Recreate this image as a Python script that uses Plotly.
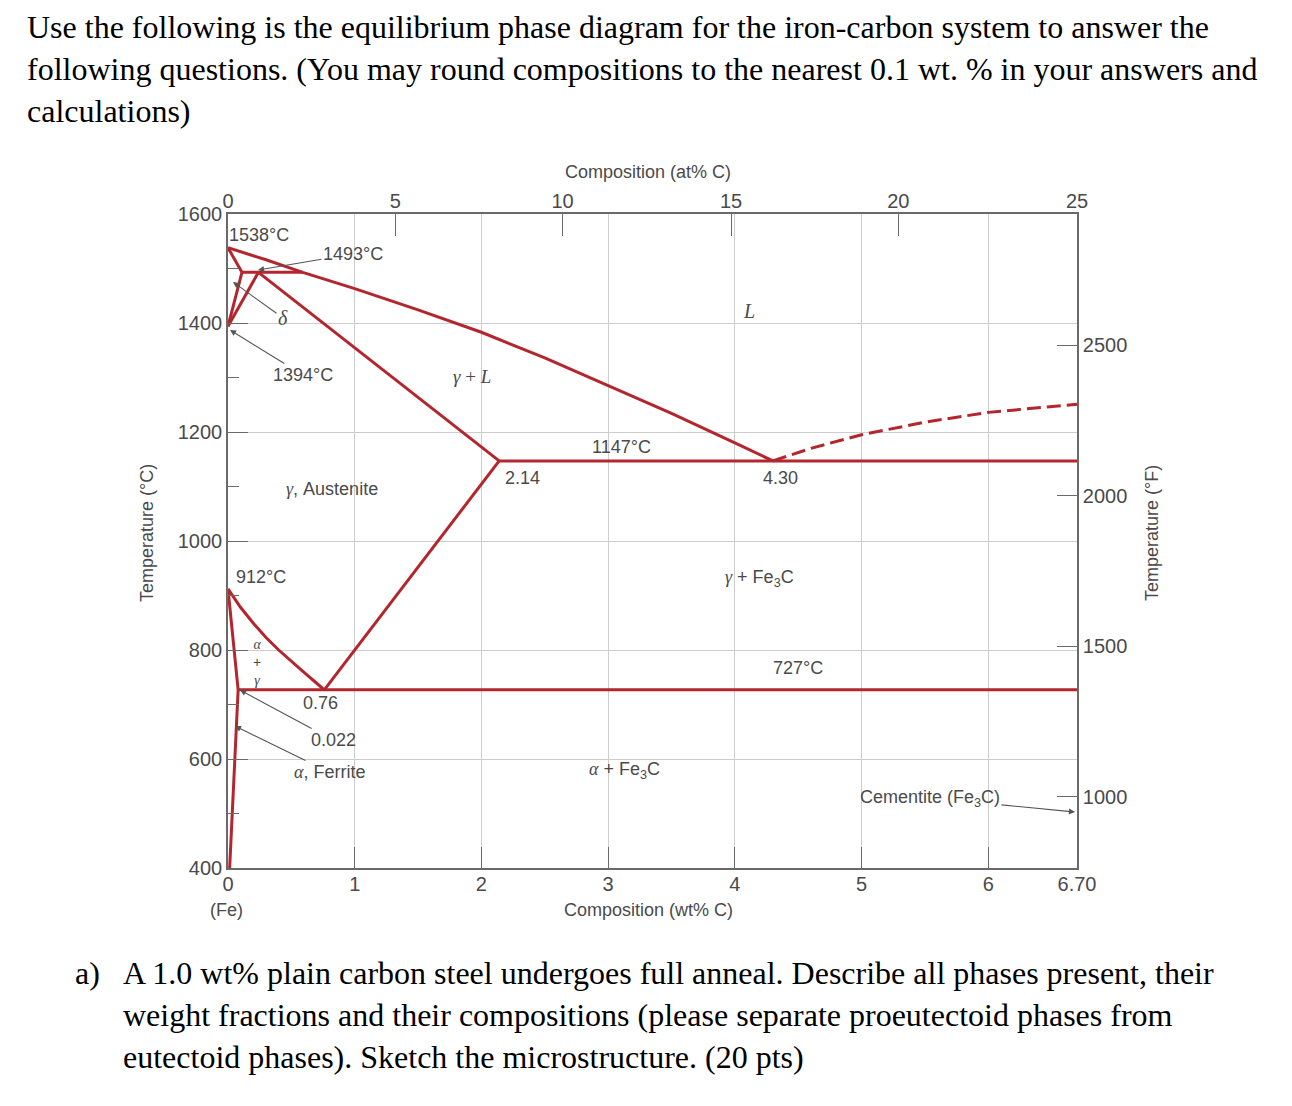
import plotly.graph_objects as go

# ---------------- data (wt% C, temperature °C) ----------------
liq_wt = [0.0, 0.30, 0.59, 1.0, 1.5, 2.0, 2.5, 3.0, 3.5, 4.0, 4.30]
liq_T = [1538, 1516, 1493, 1463, 1424, 1383, 1336, 1285, 1234, 1180, 1147]

delta_liq_wt = [0.0, 0.11]
delta_liq_T = [1538, 1493]
delta_bnd_wt = [0.11, 0.0]
delta_bnd_T = [1493, 1394]
gamma_bnd_wt = [0.24, 0.0]
gamma_bnd_T = [1493, 1394]
peritectic_wt = [0.11, 0.59]
peritectic_T = [1493, 1493]
solidus_wt = [0.24, 2.14]
solidus_T = [1493, 1147]
eutectic_wt = [2.14, 6.70]
eutectic_T = [1147, 1147]
acm_wt = [2.14, 0.76]
acm_T = [1147, 727]
a3_wt = [0.0, 0.1, 0.2, 0.3, 0.4, 0.5, 0.6, 0.7, 0.76]
a3_T = [912, 878, 849, 823, 800, 779, 759, 739, 727]
alpha_wt = [0.0, 0.08, 0.013]
alpha_T = [912, 727, 400]
eutectoid_wt = [0.08, 6.70]
eutectoid_T = [727, 727]
fe3c_liq_wt = [4.30, 4.6, 5.0, 5.5, 6.0, 6.70]
fe3c_liq_T = [1147, 1170, 1195, 1218, 1236, 1251]

wt_ticks = [0, 1, 2, 3, 4, 5, 6, 6.70]
wt_labels = ["0", "1", "2", "3", "4", "5", "6", "6.70"]
at_ticks_wt = [0, 1.32, 2.64, 3.97, 5.29, 6.70]
at_labels = ["0", "5", "10", "15", "20", "25"]
c_ticks = [400, 600, 800, 1000, 1200, 1400, 1600]
c_minor = [500, 700, 900, 1100, 1300, 1500]
f_ticks = [1000, 1500, 2000, 2500]
f_range = [764.2, 2934.8]

RED = "#b3262d"
TXT = "#4a4a4a"
AX = "#6a6a6a"
GRID = "#cdcdcd"
SANS = "Liberation Sans, Arial, sans-serif"
SERIF = "Liberation Serif, Times New Roman, serif"

OFF = 8  # body margin of the html page
W, H = 1292 - 2 * OFF, 1106 - 2 * OFF
L, R, T, B = 228, 1077, 214, 868  # plot area in reference pixels

fig = go.Figure()


def seg(x, y, dash=None):
    fig.add_trace(go.Scatter(x=x, y=y, mode="lines", hoverinfo="skip",
                             line=dict(color=RED, width=3, dash=dash)))


seg(liq_wt, liq_T)
seg(delta_liq_wt, delta_liq_T)
seg(delta_bnd_wt, delta_bnd_T)
seg(gamma_bnd_wt, gamma_bnd_T)
seg(peritectic_wt, peritectic_T)
seg(solidus_wt, solidus_T)
seg(eutectic_wt, eutectic_T)
seg(acm_wt, acm_T)
seg(a3_wt, a3_T)
seg(alpha_wt, alpha_T)
seg(eutectoid_wt, eutectoid_T)
seg(fe3c_liq_wt, fe3c_liq_T, dash="14px,6px")

# invisible trace to activate the secondary (top / right) axes
fig.add_trace(go.Scatter(x=[0, 6.70], y=f_range, xaxis="x2", yaxis="y2",
                         mode="markers", marker=dict(opacity=0), hoverinfo="skip"))

tickfont = dict(family=SANS, size=20, color=TXT)
fig.update_layout(
    width=W, height=H, autosize=False,
    margin=dict(l=L - OFF, r=W - (R - OFF), t=T - OFF, b=H - (B - OFF), pad=0),
    paper_bgcolor="white", plot_bgcolor="white", showlegend=False,
    xaxis=dict(range=[0, 6.70], tickvals=wt_ticks, ticktext=wt_labels,
               ticks="inside", ticklen=21, tickcolor=AX, tickwidth=1.2,
               showgrid=True, gridcolor=GRID, gridwidth=1, zeroline=False,
               showline=True, linecolor=AX, linewidth=1.6, tickfont=tickfont,
               ticklabelstandoff=-3),
    xaxis2=dict(range=[0, 6.70], overlaying="x", side="top", tickvals=at_ticks_wt,
                ticktext=at_labels, ticks="inside", ticklen=22, tickcolor=AX,
                tickwidth=1.2, showgrid=False, zeroline=False, showline=True,
                linecolor=AX, linewidth=1.6, tickfont=tickfont,
                ticklabelstandoff=-4),
    yaxis=dict(range=[400, 1600], tickvals=c_ticks, ticks="inside", ticklen=20,
               tickcolor=AX, tickwidth=1.2, showgrid=True, gridcolor=GRID,
               gridwidth=1, zeroline=False, showline=True, linecolor=AX,
               linewidth=1.6, tickfont=tickfont,
               minor=dict(tickvals=c_minor, ticks="inside", ticklen=11,
                          tickcolor=AX, tickwidth=1.2, showgrid=False)),
    yaxis2=dict(range=f_range, overlaying="y", side="right", tickvals=f_ticks,
                ticks="inside", ticklen=20, tickcolor=AX, tickwidth=1.2,
                showgrid=False, zeroline=False, showline=True, linecolor=AX,
                linewidth=1.6, tickfont=tickfont),
)


def px(x):
    return (x - L) / (R - L)


def py(y):
    return (B - y) / (B - T)


anns = []


def text(s, x, y, size=18, color=TXT, family=SANS, xanchor="center", angle=0, head=None):
    a = dict(text=s, xref="paper", yref="paper", xanchor=xanchor, yanchor="middle",
             textangle=angle, font=dict(size=size, color=color, family=family))
    if head is None:
        a.update(x=px(x), y=py(y), showarrow=False)
    else:
        # text centred at (x, y), arrow pointing to head
        a.update(x=px(head[0]), y=py(head[1]), ax=x - head[0], ay=y - head[1],
                 axref="pixel", ayref="pixel", showarrow=True, arrowhead=2,
                 arrowsize=1.1, arrowwidth=1.1, arrowcolor="#555", standoff=0)
    anns.append(a)


# question text
Q = "black"
QS = 32
text("Use the following is the equilibrium phase diagram for the iron-carbon system to answer the",
     25, 27, size=QS, color=Q, family=SERIF, xanchor="left")
text("following questions. (You may round compositions to the nearest 0.1 wt. % in your answers and",
     25, 69, size=QS, color=Q, family=SERIF, xanchor="left")
text("calculations)", 25, 111, size=QS, color=Q, family=SERIF, xanchor="left")
text("a)", 73, 973, size=QS, color=Q, family=SERIF, xanchor="left")
text("A 1.0 wt% plain carbon steel undergoes full anneal. Describe all phases present, their",
     121, 973, size=QS, color=Q, family=SERIF, xanchor="left")
text("weight fractions and their compositions (please separate proeutectoid phases from",
     121, 1015, size=QS, color=Q, family=SERIF, xanchor="left")
text("eutectoid phases). Sketch the microstructure. (20 pts)",
     121, 1057, size=QS, color=Q, family=SERIF, xanchor="left")

# axis titles
text("Composition (at% C)", 648, 172)
text("Composition (wt% C)", 648, 910)
text("(Fe)", 226, 910)
text("Temperature (°C)", 147, 533, angle=-90)
text("Temperature (°F)", 1152, 533, angle=-90)

# diagram labels
I = lambda s: '<span style="font-family:Liberation Serif"><i>%s</i></span>' % s
text("1538°C", 259, 235)
text("1493°C", 353, 254, head=(258, 270))
text(I("δ"), 283, 318, size=20, head=(233, 282))
text("1394°C", 303, 375, head=(230, 330))
text(I("γ") + " + " + I("L"), 472, 376, size=19, family=SERIF)
text(I("L"), 749, 311, size=20)
text("1147°C", 621, 447)
text("2.14", 522, 478)
text("4.30", 780, 478)
text(I("γ") + ", Austenite", 332, 489)
text("912°C", 261, 577)
text(I("γ") + " + Fe<sub>3</sub>C", 759, 578)
text(I("α") + "<br>+<br>" + I("γ"), 257, 662, size=14)
text("727°C", 798, 668)
text("0.76", 320, 703)
text("0.022", 333, 740, head=(240, 690))
text(I("α") + ", Ferrite", 329, 772, head=(235, 726))
text(I("α") + " + Fe<sub>3</sub>C", 624, 770)
text("Cementite (Fe<sub>3</sub>C)", 930, 798, head=(1075, 812))

fig.update_layout(annotations=anns)
fig.write_html("out.html")
